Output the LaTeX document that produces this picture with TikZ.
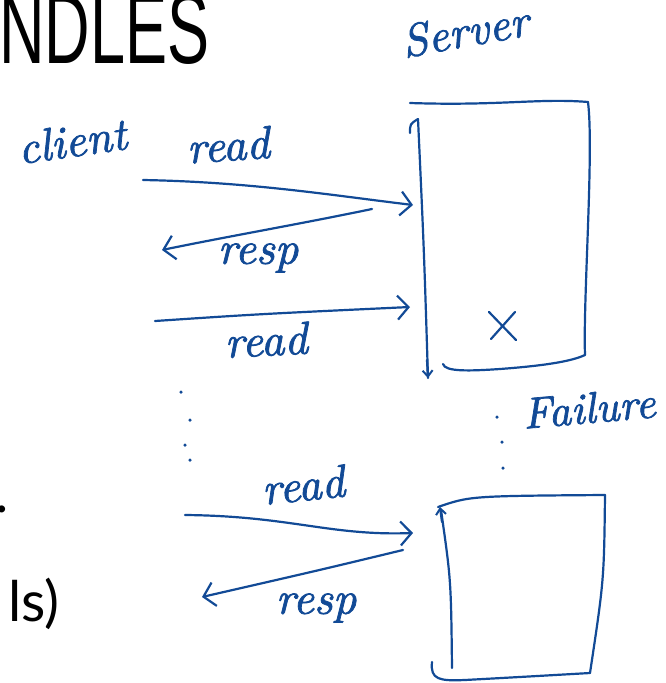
\documentclass[tikz,border=0pt]{standalone}
\usepackage{fontspec}
\usetikzlibrary{arrows.meta}
\newfontfamily\titlefont{Liberation Sans}
\newfontfamily\bodyfont{Lato}
\newfontfamily\handfont[FakeBold=1.6]{lmroman10-italic.otf}
\definecolor{ink}{RGB}{18,74,150}
\tikzset{
  pen/.style={draw=ink, line width=2.2pt, line cap=round, line join=round},
  penarrow/.style={pen, -{Straight Barb[length=11pt,width=24pt,line width=2.2pt]}},
  smallhead/.style={pen, -{Straight Barb[length=6pt,width=10pt,line width=2pt]}},
  hand/.style={text=ink, inner sep=0pt, font=\handfont\fontsize{46}{46}\selectfont},
  dot/.style={circle, fill=ink, inner sep=0pt, minimum size=3.5pt}
}
\begin{document}
\begin{tikzpicture}[x=1pt,y=-1pt]
\clip (0,0) rectangle (666,683);
\fill[white] (0,0) rectangle (666,683);

% slide text (cut off)
\node[anchor=base west, inner sep=0pt] (title) at (-1,63)
  {\scalebox{0.63}[1]{\titlefont\fontsize{100}{100}\selectfont NDLES}};
\node[anchor=base east, inner sep=0pt] (stop) at (9,512) {\bodyfont\fontsize{56}{56}\selectfont .};
\node[anchor=base west, inner sep=0pt] (paren) at (8,621) {\bodyfont\fontsize{56}{56}\selectfont ls)};

% labels
\node[hand, rotate=10] (server) at (465,31) {Server};
\node[hand, rotate=8] (client) at (72,141) {client};
\node[hand, rotate=4] (read1) at (228,145) {read};
\node[hand] (resp1) at (258,258) {resp};
\node[hand, rotate=3] (read2) at (266,340) {read};
\node[hand, rotate=6] (read3) at (303,485) {read};
\node[hand] (resp2) at (316,608) {resp};
\node[hand, rotate=5, font=\handfont\fontsize{44}{44}\selectfont] (failure) at (589,408) {Failure};

% arrow end points
\coordinate (a1s) at (143,180);
\coordinate (a1e) at (413,205);
\coordinate (a2s) at (372,209);
\coordinate (a2e) at (162,250);
\coordinate (a3s) at (155,321);
\coordinate (a3e) at (410,307);
\coordinate (a4s) at (185,515);
\coordinate (a4e) at (413,533);
\coordinate (a5s) at (403,550);
\coordinate (a5e) at (202,597);

\draw[penarrow] (a1s) .. controls (250,182) and (330,195) .. (a1e);
\draw[penarrow] (a2s) .. controls (300,224) and (230,236) .. (a2e);
\draw[penarrow] (a3s) .. controls (260,314) .. (a3e);
\draw[penarrow] (a4s) .. controls (290,516) and (330,536) .. (a4e);
\draw[penarrow] (a5s) .. controls (320,570) .. (a5e);

% server box 1
\coordinate (s1tl) at (410,103);
\coordinate (s1tr) at (588,102);
\coordinate (s1br) at (585,355);
\draw[pen] (s1tl) .. controls (500,106) and (540,98) .. (s1tr);
\draw[pen] (s1tr) .. controls (594,150) and (583,300) .. (s1br);
\draw[pen] (443,364) .. controls (445,372) and (470,371) .. (500,369) .. controls (540,366) and (570,362) .. (s1br);
\draw[pen] (410,133) .. controls (410,124) .. (418,119) .. controls (424,250) .. (428,378);
\draw[smallhead] (427,360) -- (428,378);
\draw[pen] (489,312) -- (516,340);
\draw[pen] (515,312) -- (491,339);

% dots
\node[dot] (d1) at (181,392) {};
\node[dot] (d2) at (190,420) {};
\node[dot] (d3) at (185,445) {};
\node[dot] (d4) at (190,460) {};
\node[dot] (f1) at (497,417) {};
\node[dot] (f2) at (502,442) {};
\node[dot] (f3) at (503,468) {};

% server box 2
\coordinate (s2tl) at (438,507);
\coordinate (s2tr) at (605,495);
\coordinate (s2br) at (590,673);
\draw[pen] (s2tl) .. controls (470,496) .. (s2tr);
\draw[pen] (s2tr) .. controls (604,580) .. (s2br);
\draw[pen] (432,662) .. controls (430,680) and (440,681) .. (465,680) .. controls (520,677) .. (s2br);
\draw[pen] (452,668) .. controls (451,580) .. (441,510);
\draw[smallhead] (442,522) -- (440,507);
\end{tikzpicture}
\end{document}
